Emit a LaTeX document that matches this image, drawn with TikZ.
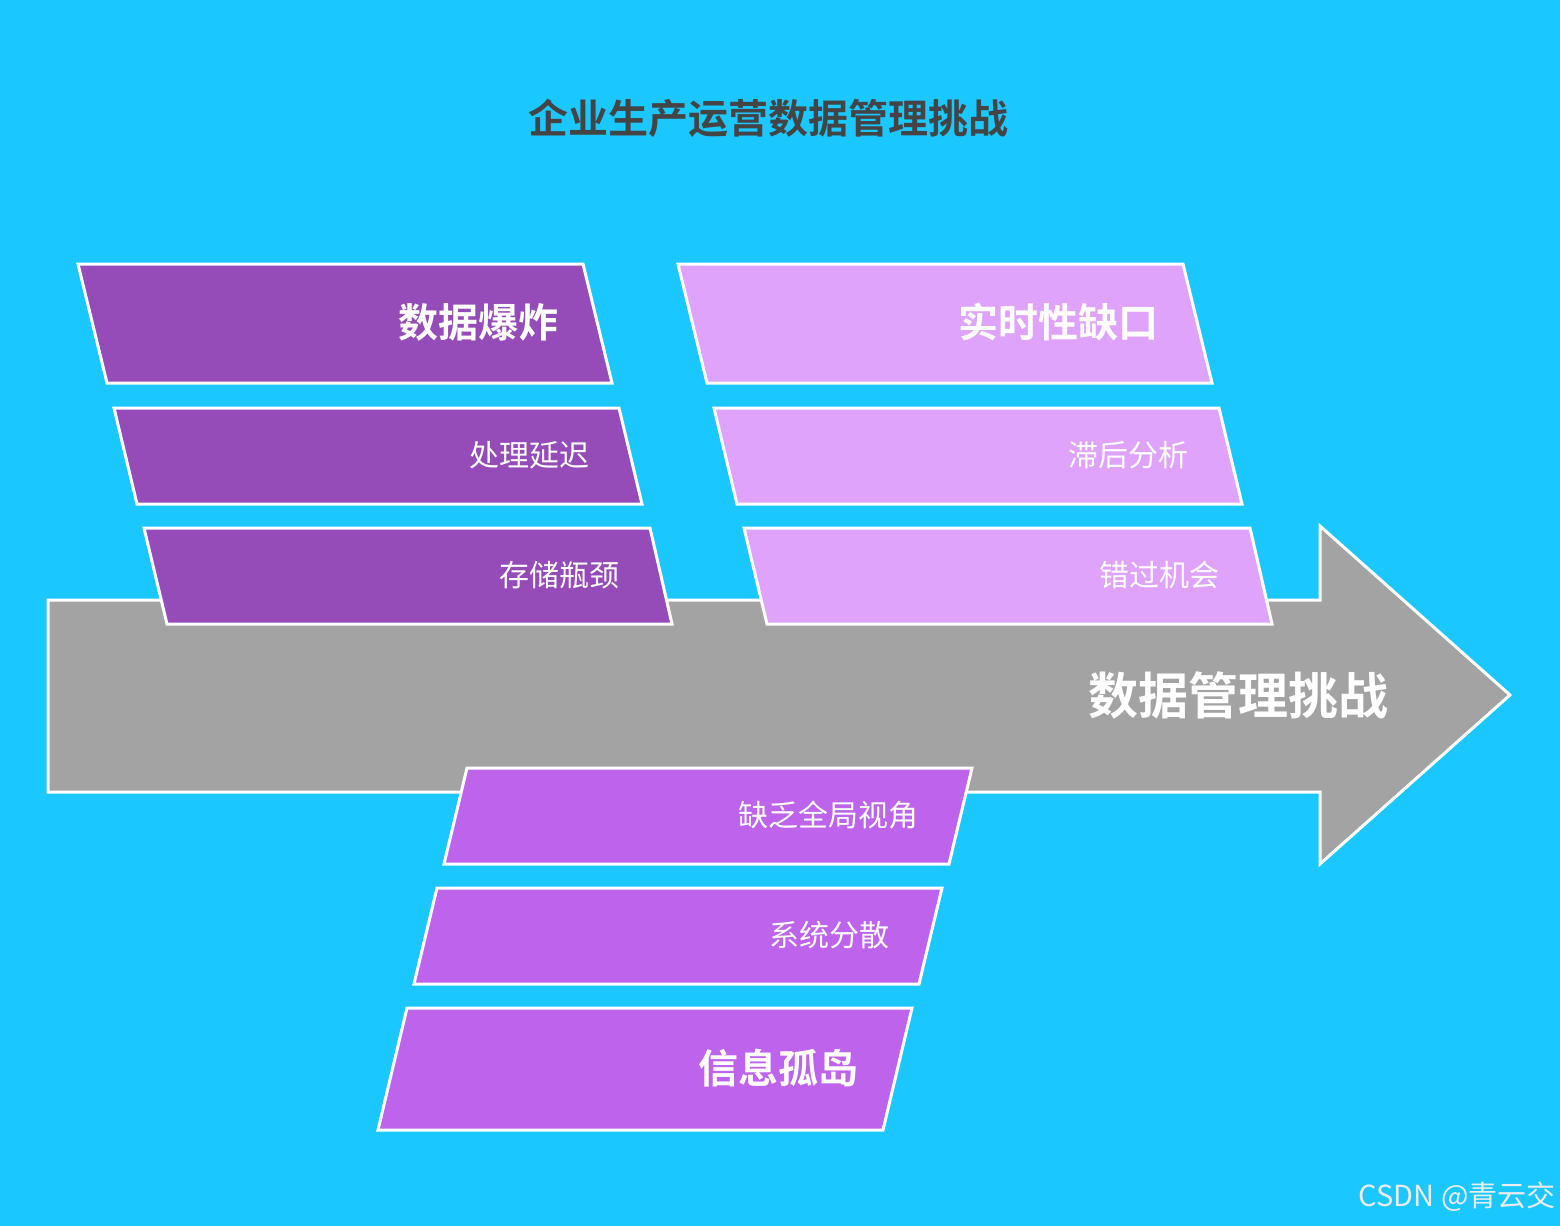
\documentclass[tikz,border=0pt]{standalone}
\usepackage{fontspec}
\newfontfamily\cjk{Noto Sans CJK SC}
\newfontfamily\cjkbold{Noto Sans CJK SC Bold}
\definecolor{skybg}{RGB}{27,199,255}
\definecolor{arrowgray}{RGB}{163,163,163}
\definecolor{darkpurple}{RGB}{149,75,184}
\definecolor{lightpurple}{RGB}{224,163,252}
\definecolor{midpurple}{RGB}{190,99,236}
\definecolor{titlegray}{RGB}{68,68,68}
\begin{document}
\begin{tikzpicture}[
    x=0.5pt, y=-0.5pt,
    slab/.style={draw=white, line width=1.5pt, line join=miter},
    headlbl/.style={anchor=east, inner sep=0pt, text=white, font=\cjkbold\fontsize{20}{24}\selectfont},
    sublbl/.style={anchor=east, inner sep=0pt, text=white, font=\cjk\fontsize{15}{18}\selectfont},
    arrow/.style={draw=white, line width=1.5pt, fill=arrowgray}
]
    % Background
    \fill[skybg] (0,0) rectangle (1560,1226);
    \useasboundingbox (0,0) rectangle (1560,1226);

    % Title
    \node[text=titlegray, font=\cjkbold\fontsize{20}{24}\selectfont] (title) at (768,118) {企业生产运营数据管理挑战};

    % Main arrow
    \draw[arrow] (48,600) -- (1320,600) -- (1320,526) -- (1510,695) -- (1320,864) -- (1320,792) -- (48,792) -- cycle;
    \node[anchor=east, inner sep=0pt, text=white, font=\cjkbold\fontsize{25}{30}\selectfont] (spine) at (1389,695) {数据管理挑战};

    % Data explosion (top left)
    \draw[slab, fill=darkpurple] (78,264) -- (583,264) -- (612,383) -- (107,383) -- cycle;
    \node[headlbl] (boom) at (559,322) {数据爆炸};
    \draw[slab, fill=darkpurple] (114,408) -- (619,408) -- (642,504) -- (137,504) -- cycle;
    \node[sublbl] (delay) at (590,455) {处理延迟};
    \draw[slab, fill=darkpurple] (144,528) -- (650,528) -- (672,624) -- (167,624) -- cycle;
    \node[sublbl] (storage) at (620,575) {存储瓶颈};

    % Real-time gap (top right)
    \draw[slab, fill=lightpurple] (678,264) -- (1183,264) -- (1212,383) -- (707,383) -- cycle;
    \node[headlbl] (gap) at (1159,322) {实时性缺口};
    \draw[slab, fill=lightpurple] (714,408) -- (1219,408) -- (1242,504) -- (737,504) -- cycle;
    \node[sublbl] (lag) at (1189,455) {滞后分析};
    \draw[slab, fill=lightpurple] (744,528) -- (1250,528) -- (1272,624) -- (767,624) -- cycle;
    \node[sublbl] (missed) at (1220,575) {错过机会};

    % Information silos (bottom)
    \draw[slab, fill=midpurple] (467,768) -- (972,768) -- (949,864) -- (444,864) -- cycle;
    \node[sublbl] (global) at (919,815) {缺乏全局视角};
    \draw[slab, fill=midpurple] (437,888) -- (942,888) -- (919,984) -- (414,984) -- cycle;
    \node[sublbl] (scatter) at (890,935) {系统分散};
    \draw[slab, fill=midpurple] (407,1008) -- (912,1008) -- (883,1130) -- (378,1130) -- cycle;
    \node[headlbl] (silo) at (859,1068) {信息孤岛};

    % Watermark
    \node[anchor=east, inner sep=0pt, text=white!85!gray, font=\cjk\fontsize{14.5}{17}\selectfont] (mark) at (1556,1197) {CSDN @青云交};
\end{tikzpicture}
\end{document}
